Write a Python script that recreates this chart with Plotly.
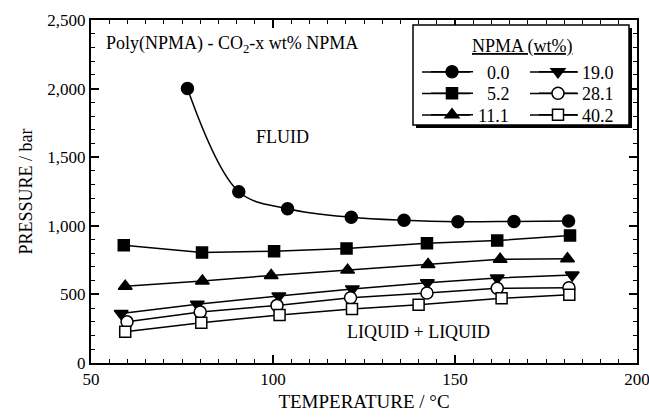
import plotly.graph_objects as go

# ---- data ----
npma_labels = ["0.0", "5.2", "11.1", "19.0", "28.1", "40.2"]

t_00 = [76.5, 90.6, 104.0, 121.5, 136.0, 150.8, 166.2, 181.2]
p_00 = [2000, 1248, 1125, 1062, 1040, 1030, 1032, 1035]

t_52 = [59.0, 80.5, 100.3, 120.2, 142.3, 161.6, 181.6]
p_52 = [858, 805, 815, 835, 872, 892, 930]

t_111 = [59.4, 80.6, 99.5, 120.5, 142.6, 162.4, 180.9]
p_111 = [560, 598, 638, 677, 718, 756, 760]

t_190 = [58.3, 79.2, 101.6, 121.8, 142.4, 161.6, 182.2]
p_190 = [360, 428, 488, 540, 585, 620, 642]

t_281 = [59.9, 80.0, 101.1, 121.3, 142.3, 161.6, 181.3]
p_281 = [300, 372, 420, 475, 510, 545, 548]

t_402 = [59.4, 80.3, 101.8, 121.7, 140.0, 162.8, 181.4]
p_402 = [228, 294, 350, 393, 425, 472, 497]

x_range = [50, 200]
y_range = [0, 2500]

# ---- layout geometry (pixels) ----
W, H = 649, 420
L, R, T, B = 91, 12, 20, 57
PW = W - L - R
PH = H - T - B


def px_x(px):
    return (px - L) / PW


def px_y(py):
    return (H - B - py) / PH


def cx(px):
    return px / W


def cy(py):
    return 1 - py / H


FONT = "Liberation Serif, Times New Roman, serif"
NB = "\u00a0\u00a0"

series = [
    (t_00, p_00, npma_labels[0], "circle", "black", "spline"),
    (t_52, p_52, npma_labels[1], "square", "black", "linear"),
    (t_111, p_111, npma_labels[2], "triangle-up", "black", "linear"),
    (t_190, p_190, npma_labels[3], "triangle-down", "black", "linear"),
    (t_281, p_281, npma_labels[4], "circle", "white", "linear"),
    (t_402, p_402, npma_labels[5], "square", "white", "linear"),
]

row_y = [72, 93.5, 115]
col_left = [426, 534]
col_itemwidth = [42, 38]
col_line = [(422, 470), (530, 578)]

fig = go.Figure()
legends = {}
legend_lines = []
for i, (xs, ys, name, sym, fill, shape) in enumerate(series):
    col, row = divmod(i, 3)
    lg = "legend" if i == 0 else f"legend{i + 1}"
    label = name
    if col == 0 and len(name) == 3:
        label = NB + name
    fig.add_trace(go.Scatter(
        x=xs, y=ys, name=label, mode="lines+markers",
        line=dict(color="black", width=1.5, shape=shape),
        marker=dict(symbol=sym, size=12 if sym != "square" else 11,
                    color=fill, line=dict(color="black", width=1.5)),
        legend=lg,
    ))
    legends[lg] = dict(
        xref="container", yref="container",
        x=cx(col_left[col]), y=cy(row_y[row]),
        xanchor="left", yanchor="middle",
        font=dict(family=FONT, size=18, color="black"),
        bgcolor="rgba(0,0,0,0)", borderwidth=0,
        itemwidth=col_itemwidth[col],
    )
    # extend the legend sample line to the reference length
    legend_lines.append(dict(
        type="line", xref="paper", yref="paper",
        x0=px_x(col_line[col][0]), x1=px_x(col_line[col][1]),
        y0=px_y(row_y[row]), y1=px_y(row_y[row]),
        line=dict(color="black", width=1.5), layer="above",
    ))

axis_common = dict(
    showline=True, linecolor="black", linewidth=2, mirror="ticks",
    ticks="inside", ticklen=8, tickwidth=1.5, tickcolor="black",
    showgrid=False, zeroline=False, automargin=False,
    ticklabeloverflow="allow",
    tickfont=dict(family=FONT, size=17, color="black"),
)

fig.update_xaxes(
    range=x_range, dtick=50, tick0=50,
    minor=dict(dtick=5, ticks="inside", ticklen=4, tickwidth=1.2, tickcolor="black"),
    title=dict(text="TEMPERATURE / °C", font=dict(family=FONT, size=19, color="black"), standoff=6),
    **axis_common,
)
fig.update_yaxes(
    range=y_range, dtick=500, tick0=0, tickformat=",d",
    minor=dict(dtick=100, ticks="inside", ticklen=4, tickwidth=1.2, tickcolor="black"),
    title=dict(text="PRESSURE / bar", font=dict(family=FONT, size=18, color="black"), standoff=10),
    **axis_common,
)

fig.update_layout(
    width=W, height=H,
    margin=dict(l=L, r=R, t=T, b=B, autoexpand=False),
    paper_bgcolor="white", plot_bgcolor="white",
    font=dict(family=FONT, color="black", size=17),
    showlegend=True,
    shapes=[
        dict(type="rect", xref="paper", yref="paper",
             x0=px_x(416), x1=px_x(632), y0=px_y(128), y1=px_y(28),
             fillcolor="black", line=dict(width=0), layer="above"),
        dict(type="rect", xref="paper", yref="paper",
             x0=px_x(413), x1=px_x(629), y0=px_y(125), y1=px_y(25),
             fillcolor="white", line=dict(color="black", width=1.5), layer="above"),
    ] + legend_lines,
    annotations=[
        dict(text="<u>NPMA (wt%)</u>", xref="paper", yref="paper",
             x=px_x(522), y=px_y(46), xanchor="center", yanchor="middle",
             showarrow=False, font=dict(family=FONT, size=18, color="black")),
        dict(text="Poly(NPMA) - CO<sub>2</sub>-x wt% NPMA", xref="paper", yref="paper",
             x=px_x(104), y=px_y(44), xanchor="left", yanchor="middle",
             showarrow=False, font=dict(family=FONT, size=18, color="black")),
        dict(text="FLUID", xref="x", yref="y", x=102.5, y=1650,
             xanchor="center", yanchor="middle", showarrow=False,
             font=dict(family=FONT, size=18, color="black")),
        dict(text="LIQUID + LIQUID", xref="x", yref="y", x=140, y=228,
             xanchor="center", yanchor="middle", showarrow=False,
             font=dict(family=FONT, size=18, color="black")),
    ],
    **legends,
)

fig.write_html("out.html")
